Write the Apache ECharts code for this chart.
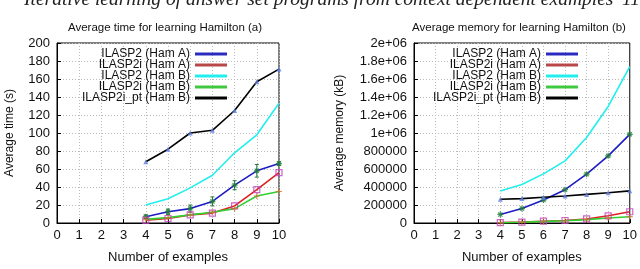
<!DOCTYPE html>
<html><head><meta charset="utf-8">
<script src="https://cdn.jsdelivr.net/npm/echarts@6/dist/echarts.min.js"></script>
<style>html,body{margin:0;padding:0;background:#fff}#c{width:640px;height:269px}</style>
</head><body><div id="c"></div>
<script>
const examples = [4, 5, 6, 7, 8, 9, 10];
const seriesNames = ["ILASP2 (Ham A)", "ILASP2i (Ham A)", "ILASP2 (Ham B)", "ILASP2i (Ham B)", "ILASP2i_pt (Ham B)"];
// Average time (s)
const timeIlasp2A = [7, 12.5, 16, 24, 42, 58, 66];
const timeIlasp2iA = [3, 5, 9, 11, 19, 37, 56];
const timeIlasp2B = [20, 27, 39, 53, 78, 98, 133];
const timeIlasp2iB = [4, 6, 9, 12, 16, 30, 35];
const timeIlasp2iPtB = [68, 82, 100, 103, 125, 157, 171];
// error bar half-widths for ILASP2 (Ham A) time
const timeIlasp2AErr = [2, 3, 4, 5, 5, 7, 2];
// Average memory (kB)
const memIlasp2A = [95000, 160000, 255000, 370000, 543000, 746000, 985000];
const memIlasp2iA = [5000, 10000, 20000, 28000, 45000, 80000, 125000];
const memIlasp2B = [355000, 428000, 546000, 690000, 950000, 1295000, 1737000];
const memIlasp2iB = [2000, 8000, 18000, 25000, 38000, 55000, 70000];
const memIlasp2iPtB = [264000, 271000, 286000, 300000, 318000, 336000, 357000];

const lineColors = ["#1c1cc4", "#e02020", "#22eeee", "#30d030", "#000000"];
const symColors = ["#1f7a3a", "#c040c0", "#22eeee", "#d07030", "#6080e0"];
const symbols = ["path://M0,5L10,5M5,0L5,10M1.5,1.5L8.5,8.5M8.5,1.5L1.5,8.5", "rect", "none", "path://M0,5L10,5M5,0L5,10", "triangle"];
const legendColors = ["#2a2ac0", "#b84848", "#22eeee", "#40c840", "#000000"];

const font = "Liberation Sans, Arial, sans-serif";
const timeData = [timeIlasp2A, timeIlasp2iA, timeIlasp2B, timeIlasp2iB, timeIlasp2iPtB];
const memData = [memIlasp2A, memIlasp2iA, memIlasp2B, memIlasp2iB, memIlasp2iPtB];

function mkSeries(data, idx) {
  const out = [];
  data.forEach((vals, i) => {
    out.push({
      name: seriesNames[i], type: "line", xAxisIndex: idx, yAxisIndex: idx,
      data: examples.map((x, k) => [x, vals[k]]),
      symbol: "none", showSymbol: false,
      lineStyle: { color: lineColors[i], width: 1.6 },
      itemStyle: { color: legendColors[i] },
      animation: false, z: 3
    });
    if (symbols[i] !== "none") {
      out.push({
        type: "scatter", xAxisIndex: idx, yAxisIndex: idx,
        data: examples.map((x, k) => [x, vals[k]]),
        symbol: symbols[i], symbolSize: i === 4 ? 5 : 6,
        itemStyle: (i === 4) ? { color: symColors[i] } : { color: "transparent", borderColor: symColors[i], borderWidth: 1.2 },
        animation: false, z: 4, silent: true
      });
    }
  });
  return out;
}

function xAx(idx) {
  return {
    type: "value", gridIndex: idx, min: 0, max: 10, interval: 1,
    name: "Number of examples", nameLocation: "middle", nameGap: 28,
    nameTextStyle: { fontFamily: font, fontSize: 13, color: "#111" },
    axisLine: { show: true, lineStyle: { color: "#000", width: 1 } },
    axisTick: { inside: true, length: 4, lineStyle: { color: "#000" } },
    axisLabel: { fontFamily: font, fontSize: 13, color: "#111", margin: 6 },
    splitLine: { show: true, lineStyle: { color: "#bbb", type: [1, 2], width: 1 } }
  };
}
function yAx(idx, max, interval, name, fmt, gap) {
  return {
    type: "value", gridIndex: idx, min: 0, max: max, interval: interval,
    name: name, nameLocation: "middle", nameGap: gap,
    nameTextStyle: { fontFamily: font, fontSize: 12, color: "#111" },
    axisLine: { show: true, lineStyle: { color: "#000", width: 1 } },
    axisTick: { inside: true, length: 4, lineStyle: { color: "#000" } },
    axisLabel: { fontFamily: font, fontSize: 13, color: "#111", margin: 7, formatter: fmt },
    splitLine: { show: true, lineStyle: { color: "#bbb", type: [1, 2], width: 1 } }
  };
}
const memFmt = v => v >= 1000000 ? (v / 1000000) + "e+06" : String(v);

function legend(right) {
  return {
    orient: "vertical", align: "right", right: right, top: 48,
    itemWidth: 32, itemHeight: 3, itemGap: -1,
    icon: "path://M0,0L32,0L32,3L0,3Z",
    data: seriesNames.map((n, i) => ({ name: n, icon: "path://M0,0L32,0L32,3L0,3Z", itemStyle: { color: legendColors[i], borderWidth: 0 } })),
    textStyle: { fontFamily: font, fontSize: 12, color: "#111", lineHeight: 12, padding: 0 },
    padding: 0,
    selectedMode: false
  };
}

const chart = echarts.init(document.getElementById("c"), null, { renderer: "canvas" });
chart.setOption({
  animation: false,
  backgroundColor: "#fff",
  title: [
    { text: "Average time for learning Hamilton (a)", left: 165, top: 22, textAlign: "center", padding: 0,
      textStyle: { fontFamily: font, fontSize: 11.5, fontWeight: "normal", color: "#111" } },
    { text: "Average memory for learning Hamilton (b)", left: 519, top: 22, textAlign: "center", padding: 0,
      textStyle: { fontFamily: font, fontSize: 11.5, fontWeight: "normal", color: "#111" } }
  ],
  graphic: [
    { type: "text", left: 24, top: -10, style: { text: "Iterative learning of answer set programs from context dependent examples", font: "italic 19.5px 'Liberation Serif', serif", fill: "#222" } },
    { type: "text", left: 622, top: -10, style: { text: "11", font: "italic 19.5px 'Liberation Serif', serif", fill: "#222" } }
  ],
  grid: [
    { left: 57, top: 43, width: 222, height: 190, show: true, borderColor: "#000", borderWidth: 1, backgroundColor: "transparent" },
    { left: 414, top: 43, width: 216, height: 190, show: true, borderColor: "#000", borderWidth: 1, backgroundColor: "transparent" }
  ],
  xAxis: [xAx(0), xAx(1)],
  yAxis: [yAx(0, 200, 20, "Average time (s)", null, 41), yAx(1, 2000000, 200000, "Average memory (kB)", memFmt, 68)],
  legend: [legend(413), legend(62)],
  series: mkSeries(timeData, 0).concat(mkSeries(memData, 1)).concat([{
    type: "custom", xAxisIndex: 0, yAxisIndex: 0, silent: true, z: 4,
    data: examples.map((x, k) => [x, timeIlasp2A[k] - timeIlasp2AErr[k], timeIlasp2A[k] + timeIlasp2AErr[k]]),
    renderItem: function (params, api) {
      const lo = api.coord([api.value(0), api.value(1)]);
      const hi = api.coord([api.value(0), api.value(2)]);
      const st = { stroke: "#1f7a3a", lineWidth: 1 };
      return { type: "group", children: [
        { type: "line", shape: { x1: lo[0], y1: lo[1], x2: hi[0], y2: hi[1] }, style: st },
        { type: "line", shape: { x1: lo[0] - 2, y1: lo[1], x2: lo[0] + 2, y2: lo[1] }, style: st },
        { type: "line", shape: { x1: hi[0] - 2, y1: hi[1], x2: hi[0] + 2, y2: hi[1] }, style: st }
      ] };
    }
  }])
});
</script></body></html>
